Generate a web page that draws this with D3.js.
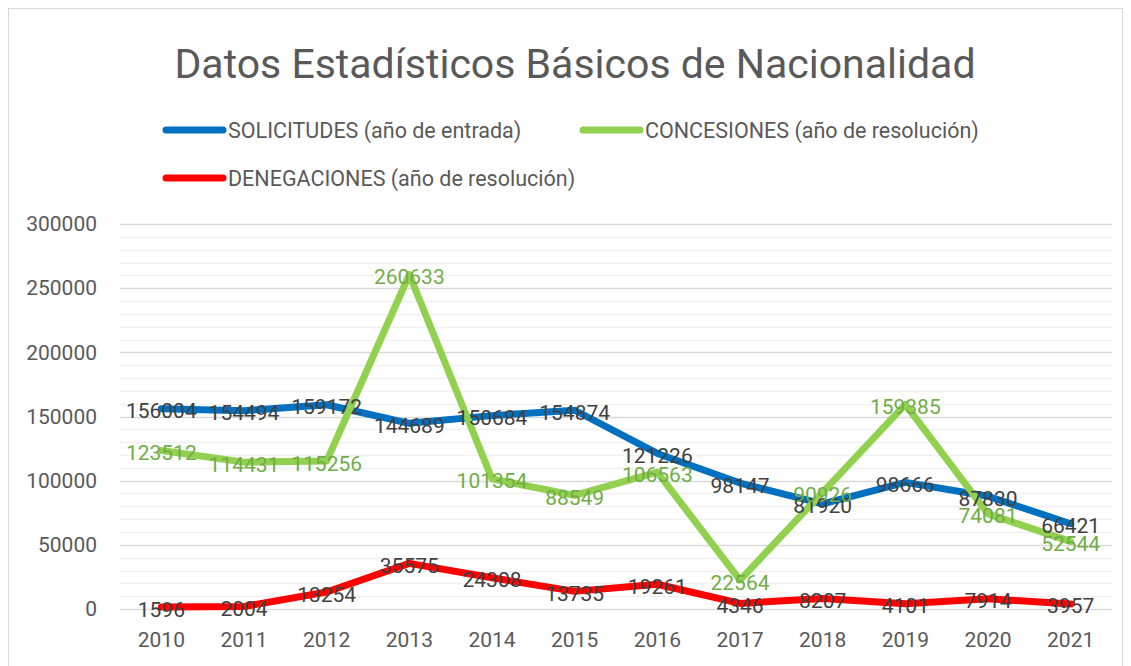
<!DOCTYPE html>
<html>
<head>
<meta charset="utf-8">
<script src="https://cdn.jsdelivr.net/npm/d3@7"></script>
<style>
  body { margin: 0; background: #fff; }
  text { font-family: Roboto, "Open Sans", sans-serif; }
</style>
</head>
<body>
<div id="chart"></div>
<script>
const years = ["2010", "2011", "2012", "2013", "2014", "2015", "2016", "2017", "2018", "2019", "2020", "2021"];
const solicitudes = [156004, 154494, 159172, 144689, 150684, 154874, 121226, 98147, 81920, 98666, 87830, 66421];
const concesiones = [123512, 114431, 115256, 260633, 101354, 88549, 106563, 22564, 90926, 159385, 74081, 52544];
const denegaciones = [1596, 2004, 13254, 35575, 24308, 13735, 19261, 4346, 8207, 4101, 7914, 3957];
const yTicks = [0, 50000, 100000, 150000, 200000, 250000, 300000];

const series = [
  { name: "SOLICITUDES (año de entrada)", color: "#0070C0", label: "#404040", values: solicitudes },
  { name: "CONCESIONES (año de resolución)", color: "#92D050", label: "#70AD47", values: concesiones },
  { name: "DENEGACIONES (año de resolución)", color: "#FF0000", label: "#404040", values: denegaciones }
];

const W = 1131, H = 666;
const margin = { left: 120, right: 19, top: 224, bottom: 57 };

const svg = d3.select("#chart").append("svg")
  .attr("width", W)
  .attr("height", H);

// outer border
svg.append("rect")
  .attr("x", 8.5).attr("y", 8.5)
  .attr("width", 1114).attr("height", 680)
  .attr("fill", "#fff")
  .attr("stroke", "#d9d9d9");

// title
svg.append("text")
  .attr("x", 575)
  .attr("y", 78)
  .attr("text-anchor", "middle")
  .attr("font-size", 41)
  .attr("fill", "#595959")
  .text("Datos Estadísticos Básicos de Nacionalidad");

const x = d3.scaleBand()
  .domain(years)
  .range([margin.left, W - margin.right]);

const y = d3.scaleLinear()
  .domain([0, 300000])
  .range([H - margin.bottom, margin.top]);

// ---------- grid ----------
const minor = d3.range(0, 300001, 10000).filter(v => v % 50000 !== 0);
svg.append("g").selectAll("line")
  .data(minor)
  .join("line")
  .attr("x1", margin.left).attr("x2", W - margin.right)
  .attr("y1", d => Math.round(y(d)) + 0.5).attr("y2", d => Math.round(y(d)) + 0.5)
  .attr("stroke", "#f0f0f0")
  .attr("stroke-width", 1.5);

svg.append("g").selectAll("line")
  .data(yTicks)
  .join("line")
  .attr("x1", margin.left).attr("x2", W - margin.right)
  .attr("y1", d => Math.round(y(d)) + 0.5).attr("y2", d => Math.round(y(d)) + 0.5)
  .attr("stroke", "#d9d9d9")
  .attr("stroke-width", 1.5);

// ---------- axes ----------
const yAxis = d3.axisLeft(y).tickValues(yTicks).tickSize(0).tickPadding(23).tickFormat(d3.format("d"));
svg.append("g")
  .attr("transform", `translate(${margin.left},0)`)
  .call(yAxis)
  .call(g => g.select(".domain").remove())
  .selectAll("text")
  .attr("font-family", "Roboto, sans-serif")
  .attr("font-size", 21)
  .attr("fill", "#595959");

const xAxis = d3.axisBottom(x).tickSize(0).tickPadding(23);
svg.append("g")
  .attr("transform", `translate(0,${y(0)})`)
  .call(xAxis)
  .call(g => g.select(".domain").remove())
  .selectAll("text")
  .attr("font-family", "Roboto, sans-serif")
  .attr("font-size", 21)
  .attr("fill", "#595959");

// ---------- lines ----------
const line = d3.line()
  .x((d, i) => x(years[i]) + x.bandwidth() / 2)
  .y(d => y(d));

series.forEach(s => {
  svg.append("path")
    .datum(s.values)
    .attr("fill", "none")
    .attr("stroke", s.color)
    .attr("stroke-width", 7)
    .attr("stroke-linejoin", "round")
    .attr("stroke-linecap", "round")
    .attr("d", line);
});

// ---------- data labels ----------
series.forEach(s => {
  svg.append("g").selectAll("text")
    .data(s.values)
    .join("text")
    .attr("x", (d, i) => x(years[i]) + x.bandwidth() / 2)
    .attr("y", d => y(d) + 2)
    .attr("dy", "0.36em")
    .attr("text-anchor", "middle")
    .attr("font-size", 21)
    .attr("fill", s.label)
    .text(d => d);
});

// ---------- legend ----------
const legendPos = [[163, 130], [580, 130], [163, 178]];
series.forEach((s, i) => {
  const [lx, ly] = legendPos[i];
  const row = svg.append("g").attr("transform", `translate(${lx},${ly})`);
  row.append("line")
    .attr("x1", 3).attr("x2", 60)
    .attr("stroke", s.color)
    .attr("stroke-width", 7)
    .attr("stroke-linecap", "round");
  row.append("text")
    .attr("x", 65)
    .attr("dy", "0.36em")
    .attr("font-size", 21.5)
    .attr("fill", "#595959")
    .text(s.name);
});
</script>
</body>
</html>
